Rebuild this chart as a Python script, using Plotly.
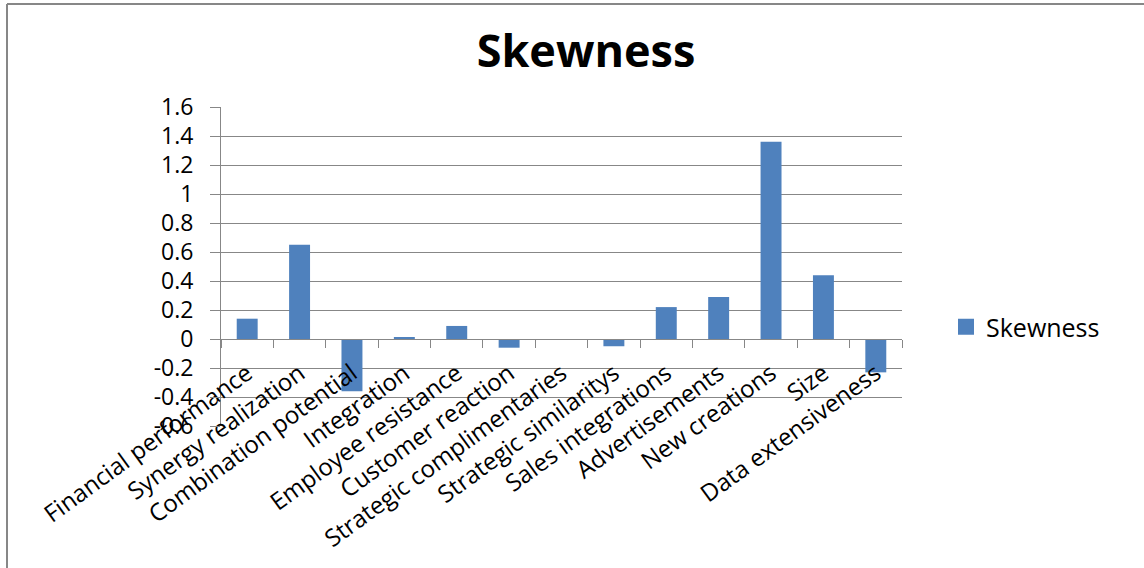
import plotly.graph_objects as go

# Skewness of each merger/acquisition factor
categories = [
    "Financial performance", "Synergy realization", "Combination potential",
    "Integration", "Employee resistance", "Customer reaction",
    "Strategic complimentaries", "Strategic similaritys", "Sales integrations",
    "Advertisements", "New creations", "Size", "Data extensiveness",
]
skewness = [0.14, 0.65, -0.36, 0.01, 0.09, -0.06, 0.0, -0.05, 0.22, 0.29, 1.36, 0.44, -0.23]

y_tick_vals = [-0.6, -0.4, -0.2, 0, 0.2, 0.4, 0.6, 0.8, 1, 1.2, 1.4, 1.6]
y_tick_text = ["-0.6", "-0.4", "-0.2", "0", "0.2", "0.4", "0.6", "0.8", "1", "1.2", "1.4", "1.6"]

W, H = 1144, 568
L, R, T, B = 221, 902, 107, 426  # plot area in pixels
FONT = "Open Sans"
GRID = "#878787"
BAR = "#4F81BD"


def px_x(p):
    return (p - L) / (R - L)


def px_y(p):
    return (B - p) / (B - T)


fig = go.Figure()
fig.add_trace(go.Bar(
    x=categories, y=skewness, name="Skewness",
    marker=dict(color=BAR, line=dict(width=0)),
    showlegend=False, legendgroup="skew",
))
# legend key drawn as a larger square swatch
fig.add_trace(go.Scatter(
    x=[None], y=[None], mode="markers", name="Skewness",
    marker=dict(symbol="square", size=17, color=BAR),
    showlegend=True, legendgroup="skew",
))

y_min, y_max = y_tick_vals[0], y_tick_vals[-1]

fig.update_layout(
    width=W, height=H,
    margin=dict(l=L, r=W - R, t=T, b=H - B, pad=0),
    paper_bgcolor="white", plot_bgcolor="white",
    font=dict(family=FONT, color="#000000", size=20),
    bargap=0.6,
    title=dict(
        text="<b>Skewness</b>", x=586 / W, xanchor="center",
        y=1 - 51 / H, yanchor="middle", yref="container",
        font=dict(family=FONT, size=45, color="#000000"),
    ),
    xaxis=dict(
        type="category",
        anchor="free", position=(0 - y_min) / (y_max - y_min),
        showline=True, linecolor=GRID, linewidth=1,
        ticks="outside", ticklen=8, tickcolor=GRID, tickwidth=1,
        tickson="boundaries",
        tickangle=-36,
        ticklabelstandoff=10,
        tickfont=dict(family=FONT, size=24, color="#000000"),
        showgrid=False, zeroline=False,
        range=[-0.5, len(categories) - 0.5],
    ),
    yaxis=dict(
        range=[y_min, y_max],
        tickmode="array", tickvals=y_tick_vals, ticktext=y_tick_text,
        showline=True, linecolor=GRID, linewidth=1,
        ticks="outside", ticklen=10, tickcolor=GRID, tickwidth=1,
        ticklabelstandoff=12,
        showgrid=True, gridcolor=GRID, gridwidth=1,
        zeroline=False,
        tickfont=dict(family=FONT, size=23, color="#000000"),
    ),
    legend=dict(
        x=px_x(946), y=px_y(327), xanchor="left", yanchor="middle",
        font=dict(family=FONT, size=25, color="#000000"),
        bgcolor="rgba(0,0,0,0)",
    ),
)

# chart frame (top and left edges)
fig.add_shape(type="line", xref="paper", yref="paper",
              x0=px_x(7), x1=px_x(W + 5), y0=px_y(4), y1=px_y(4),
              line=dict(color="#878787", width=2))
fig.add_shape(type="line", xref="paper", yref="paper",
              x0=px_x(7), x1=px_x(7), y0=px_y(4), y1=px_y(H + 5),
              line=dict(color="#878787", width=2))

fig.write_html("out.html")
